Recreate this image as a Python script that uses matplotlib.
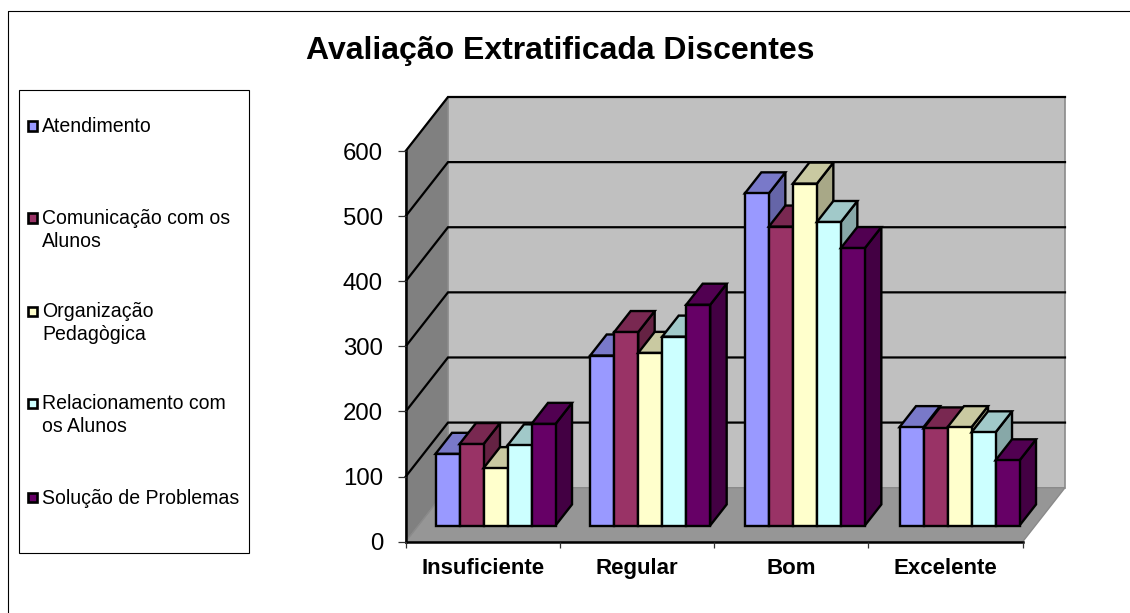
import matplotlib
matplotlib.use("Agg")
import matplotlib.pyplot as plt
from matplotlib.patches import Polygon, Rectangle
from matplotlib.lines import Line2D

plt.rcParams['font.family'] = ['Liberation Sans', 'DejaVu Sans']

categories = ['Insuficiente', 'Regular', 'Bom', 'Excelente']
series_names = ['Atendimento', 'Comunicação com os\nAlunos', 'Organização\nPedagògica',
                'Relacionamento com\nos Alunos', 'Solução de Problemas']
atendimento = [110, 261, 510, 151]
comunicacao = [125, 297, 459, 149]
organizacao = [88, 265, 525, 151]
relacionamento = [123, 290, 466, 143]
solucao = [156, 339, 426, 100]
series = [atendimento, comunicacao, organizacao, relacionamento, solucao]
y_ticks = [0, 100, 200, 300, 400, 500, 600]

colors = ['#9999FF', '#993366', '#FFFFCC', '#CCFFFF', '#660066']
W, H = 1130, 613
fig = plt.figure(figsize=(W / 100, H / 100), dpi=100, facecolor='white')

# front plane of the chart box, in pixels
L, R, B, T = 405.7, 1022.7, 541.7, 151.0
ax = fig.add_axes([L / W, 1 - B / H, (R - L) / W, (B - T) / H])
ax.set_xlim(0, 4)
ax.set_ylim(0, 600)
ax.patch.set_visible(False)
for s in ('top', 'right'):
    ax.spines[s].set_visible(False)
for s in ('left', 'bottom'):
    ax.spines[s].set_linewidth(1.8)
    ax.spines[s].set_zorder(1.5)

cat_px = (R - L) / 4
val_px = (B - T) / 600
DX = 42.3 / cat_px      # depth of the box in data units
DY = 54.0 / val_px


def pt(x, v, d):
    return (x + d * DX, v + d * DY)


def shade(c, f):
    r, g, b = matplotlib.colors.to_rgb(c)
    return (r * f, g * f, b * f)


def poly(points, fc, ec='black', lw=1.7, z=1):
    ax.add_patch(Polygon(points, closed=True, facecolor=fc, edgecolor=ec, linewidth=lw,
                         joinstyle='miter', clip_on=False, zorder=z))


# walls and floor
poly([pt(0, 0, 0), pt(0, 600, 0), pt(0, 600, 1), pt(0, 0, 1)], '#808080', '#8a8a8a', 1.0)
poly([pt(0, 0, 1), pt(0, 600, 1), pt(4, 600, 1), pt(4, 0, 1)], '#C0C0C0', '#8a8a8a', 1.2)
poly([pt(0, 0, 0), pt(4, 0, 0), pt(4, 0, 1), pt(0, 0, 1)], '#969696', '#8a8a8a', 1.0)

# gridlines on side and back wall
for v in y_ticks[1:]:
    ax.plot(*zip(pt(0, v, 0), pt(0, v, 1), pt(4, v, 1)), color='black', lw=1.6,
            clip_on=False, zorder=1.1, solid_joinstyle='miter')

# bars, painted left to right
bar_w = 24.0 / cat_px
gap = (1 - 5 * bar_w) / 2
step = 154.67 / cat_px
d0, d1 = 0.30, 0.69
for i in range(len(categories)):
    for j, vals in enumerate(series):
        v = vals[i]
        x0 = i * step + gap + j * bar_w
        x1 = x0 + bar_w
        c = colors[j]
        z = 2 + i + j * 0.1
        poly([pt(x1, 0, d0), pt(x1, v, d0), pt(x1, v, d1), pt(x1, 0, d1)], shade(c, 0.66), z=z)
        poly([pt(x0, v, d0), pt(x1, v, d0), pt(x1, v, d1), pt(x0, v, d1)], shade(c, 0.79), z=z)
        poly([pt(x0, 0, d0), pt(x1, 0, d0), pt(x1, v, d0), pt(x0, v, d0)], c, z=z)

# axes ticks and labels
ax.set_yticks(y_ticks)
ax.tick_params(axis='y', length=5.5, width=0.9, color='#333333', labelsize=17.3, pad=10.8)
ax.set_xticks([0, 1, 2, 3, 4])
ax.set_xticklabels([])
ax.tick_params(axis='x', which='major', length=4, width=0.9, color='#333333')
ax.set_xticks([i + 0.5 for i in range(4)], minor=True)
ax.set_xticklabels(categories, minor=True, fontweight='bold', fontsize=16)
ax.tick_params(axis='x', which='minor', length=0, pad=12)

# title
fig.text(560.5 / W, 1 - 51.5 / H, 'Avaliação Extratificada Discentes', ha='center', va='center',
         fontsize=23.05, fontweight='bold')

# chart frame
fig.add_artist(Line2D([7.5 / W, 7.5 / W, 1], [0, 1 - 11 / H, 1 - 11 / H], color='black', lw=0.8))

# legend
fig.add_artist(Rectangle((18.5 / W, 1 - 553 / H), 230 / W, 463 / H, transform=fig.transFigure,
                         facecolor='white', edgecolor='black', linewidth=0.8))
legend_y = [126, 218, 311, 403, 497]
for name, c, y in zip(series_names, colors, legend_y):
    fig.add_artist(Rectangle((28.3 / W, 1 - (y + 4.5) / H), 9 / W, 9 / H, transform=fig.transFigure,
                             facecolor=c, edgecolor='black', linewidth=1.9))
    text_y = y + 1 + 11 * name.count('\n')
    fig.text(42 / W, 1 - text_y / H, name, ha='left', va='center', fontsize=14.05, linespacing=1.3)

fig.savefig('out.png', dpi=100, facecolor='white')
